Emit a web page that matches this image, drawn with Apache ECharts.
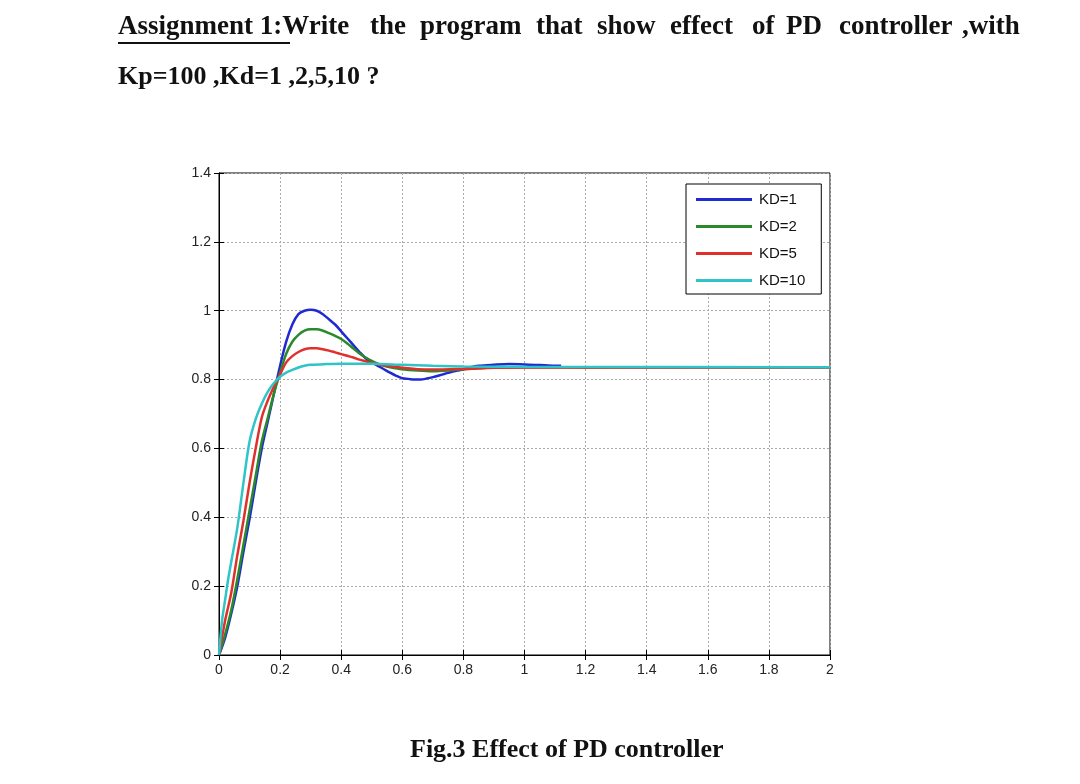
<!DOCTYPE html>
<html>
<head>
<meta charset="utf-8">
<script src="https://cdn.jsdelivr.net/npm/echarts@6/dist/echarts.min.js"></script>
<style>
html,body{margin:0;padding:0;background:#fff;}
#chart{width:1080px;height:784px;}
</style>
</head>
<body>
<div id="chart"></div>
<script>
// ---- data ----
var legendNames = ['KD=1', 'KD=2', 'KD=5', 'KD=10'];
var xTicks = [0, 0.2, 0.4, 0.6, 0.8, 1, 1.2, 1.4, 1.6, 1.8, 2];
var yTicks = [0, 0.2, 0.4, 0.6, 0.8, 1, 1.2, 1.4];

var tKD1 = [0,0.02,0.04,0.06,0.08,0.1,0.12,0.14,0.16,0.18,0.2,0.22,0.24,0.26,0.28,0.3,0.32,0.34,0.36,0.38,0.4,0.42,0.44,0.46,0.48,0.5,0.52,0.54,0.56,0.58,0.6,0.62,0.64,0.66,0.68,0.7,0.72,0.74,0.76,0.78,0.8,0.82,0.85,0.9,0.95,1.0,1.05,1.1,1.12];
var yKD1 = [0,0.05,0.12,0.2,0.3,0.395,0.5,0.6,0.68,0.76,0.84,0.91,0.96,0.99,1.0,1.003,1.0,0.99,0.975,0.96,0.94,0.92,0.9,0.88,0.862,0.85,0.84,0.83,0.82,0.811,0.804,0.802,0.8,0.8,0.803,0.807,0.812,0.817,0.822,0.826,0.83,0.835,0.84,0.843,0.845,0.844,0.842,0.84,0.84];

var tKD2 = [0,0.02,0.04,0.06,0.08,0.1,0.12,0.14,0.16,0.18,0.2,0.22,0.24,0.26,0.28,0.3,0.32,0.34,0.36,0.38,0.4,0.42,0.44,0.46,0.48,0.5,0.52,0.54,0.56,0.6,0.65,0.7,0.75,0.8,0.85,0.9,1.0,1.2,1.5,2.0];
var yKD2 = [0,0.06,0.13,0.22,0.32,0.42,0.52,0.62,0.69,0.76,0.82,0.875,0.91,0.93,0.942,0.946,0.946,0.942,0.935,0.927,0.918,0.905,0.89,0.876,0.864,0.854,0.846,0.84,0.836,0.83,0.826,0.824,0.826,0.83,0.833,0.835,0.836,0.835,0.835,0.835];

var tKD5 = [0,0.02,0.04,0.06,0.08,0.1,0.12,0.14,0.16,0.18,0.2,0.22,0.24,0.26,0.28,0.3,0.32,0.34,0.36,0.38,0.4,0.42,0.44,0.46,0.48,0.5,0.55,0.6,0.65,0.7,0.8,0.9,1.0,2.0];
var yKD5 = [0,0.1,0.18,0.29,0.39,0.5,0.6,0.69,0.74,0.78,0.815,0.85,0.868,0.88,0.888,0.891,0.891,0.888,0.884,0.879,0.874,0.869,0.864,0.858,0.853,0.848,0.84,0.834,0.83,0.829,0.831,0.834,0.835,0.835];

var tKD10 = [0,0.01,0.02,0.03,0.04,0.06,0.08,0.1,0.12,0.14,0.16,0.18,0.2,0.22,0.24,0.26,0.28,0.3,0.35,0.4,0.5,0.6,0.7,0.8,1.0,2.0];
var yKD10 = [0,0.1,0.16,0.22,0.27,0.37,0.5,0.62,0.685,0.73,0.765,0.79,0.808,0.82,0.828,0.835,0.84,0.843,0.845,0.846,0.846,0.843,0.84,0.838,0.837,0.836];

function pairs(t, y) { return t.map(function (v, i) { return [v, y[i]]; }); }

var colors = ['#1f2bd0', '#2a8a2a', '#e0302c', '#2ec4c8'];
var seriesT = [tKD1, tKD2, tKD5, tKD10];
var seriesY = [yKD1, yKD2, yKD5, yKD10];

var chart = echarts.init(document.getElementById('chart'), null, {renderer: 'canvas'});

var axisFont = {fontFamily: 'Liberation Sans, Arial, sans-serif', fontSize: 14, color: '#222'};
var serif = 'Liberation Serif, Times New Roman, serif';

// words of the justified heading line
var headWords = [
  ['Assignment 1:Write', 118], ['the', 370], ['program', 420], ['that', 536],
  ['show', 597], ['effect', 670], ['of', 752], ['PD', 786], ['controller', 839], [',with', 962]
];
var graphics = headWords.map(function (w) {
  return {type: 'text', left: w[1], top: 14, style: {text: w[0], font: 'bold 27px ' + serif, fill: '#111'}};
});
graphics.push({type: 'rect', left: 118, top: 42, shape: {width: 172, height: 2}, style: {fill: '#111'}});
graphics.push({type: 'text', left: 118, top: 64, style: {text: 'Kp=100 ,Kd=1 ,2,5,10 ?', font: 'bold 26px ' + serif, fill: '#111'}});
graphics.push({type: 'text', left: 410, top: 737, style: {text: 'Fig.3 Effect of PD controller', font: 'bold 26px ' + serif, fill: '#111'}});

chart.setOption({
  animation: false,
  backgroundColor: '#ffffff',
  color: colors,
  graphic: graphics,
  grid: {left: 219, right: 250, top: 173, bottom: 129, show: true, borderColor: '#000', borderWidth: 1, backgroundColor: '#fff'},
  legend: {
    data: legendNames,
    orient: 'vertical',
    left: 686, top: 184,
    backgroundColor: '#fff',
    borderColor: '#000', borderWidth: 1,
    padding: [8, 16, 6, 10],
    itemWidth: 56, itemHeight: 3, itemGap: 12,
    icon: 'rect',
    textStyle: {fontFamily: 'Liberation Sans, Arial, sans-serif', fontSize: 15, color: '#111', padding: [0, 0, 0, 2]}
  },
  xAxis: [{
    type: 'value', min: 0, max: 2, interval: 0.2,
    axisLine: {show: true, lineStyle: {color: '#000', width: 1}},
    axisTick: {show: true, inside: true, length: 5, lineStyle: {color: '#000'}},
    axisLabel: Object.assign({margin: 8, formatter: function (v) { return String(+v.toFixed(1)); }}, axisFont),
    splitLine: {show: true, lineStyle: {color: '#aaa', type: [2, 2], width: 1}}
  }, {
    type: 'value', min: 0, max: 2, interval: 0.2, position: 'top',
    axisLine: {show: true, lineStyle: {color: '#000'}},
    axisTick: {show: true, inside: true, length: 5, lineStyle: {color: '#000'}},
    axisLabel: {show: false}, splitLine: {show: false}
  }],
  yAxis: [{
    type: 'value', min: 0, max: 1.4, interval: 0.2,
    axisLine: {show: true, lineStyle: {color: '#000', width: 1}},
    axisTick: {show: true, inside: true, length: 5, lineStyle: {color: '#000'}},
    axisLabel: Object.assign({margin: 8, formatter: function (v) { return String(+v.toFixed(1)); }}, axisFont),
    splitLine: {show: true, lineStyle: {color: '#aaa', type: [2, 2], width: 1}}
  }, {
    type: 'value', min: 0, max: 1.4, interval: 0.2, position: 'right',
    axisLine: {show: true, lineStyle: {color: '#000'}},
    axisTick: {show: true, inside: true, length: 5, lineStyle: {color: '#000'}},
    axisLabel: {show: false}, splitLine: {show: false}
  }],
  series: legendNames.map(function (name, i) {
    return {
      name: name, type: 'line', xAxisIndex: 0, yAxisIndex: 0,
      data: pairs(seriesT[i], seriesY[i]),
      showSymbol: false, symbol: 'none', smooth: 0.3,
      lineStyle: {color: colors[i], width: 2.5},
      itemStyle: {color: colors[i]},
      z: 2 + i
    };
  })
});
</script>
</body>
</html>
